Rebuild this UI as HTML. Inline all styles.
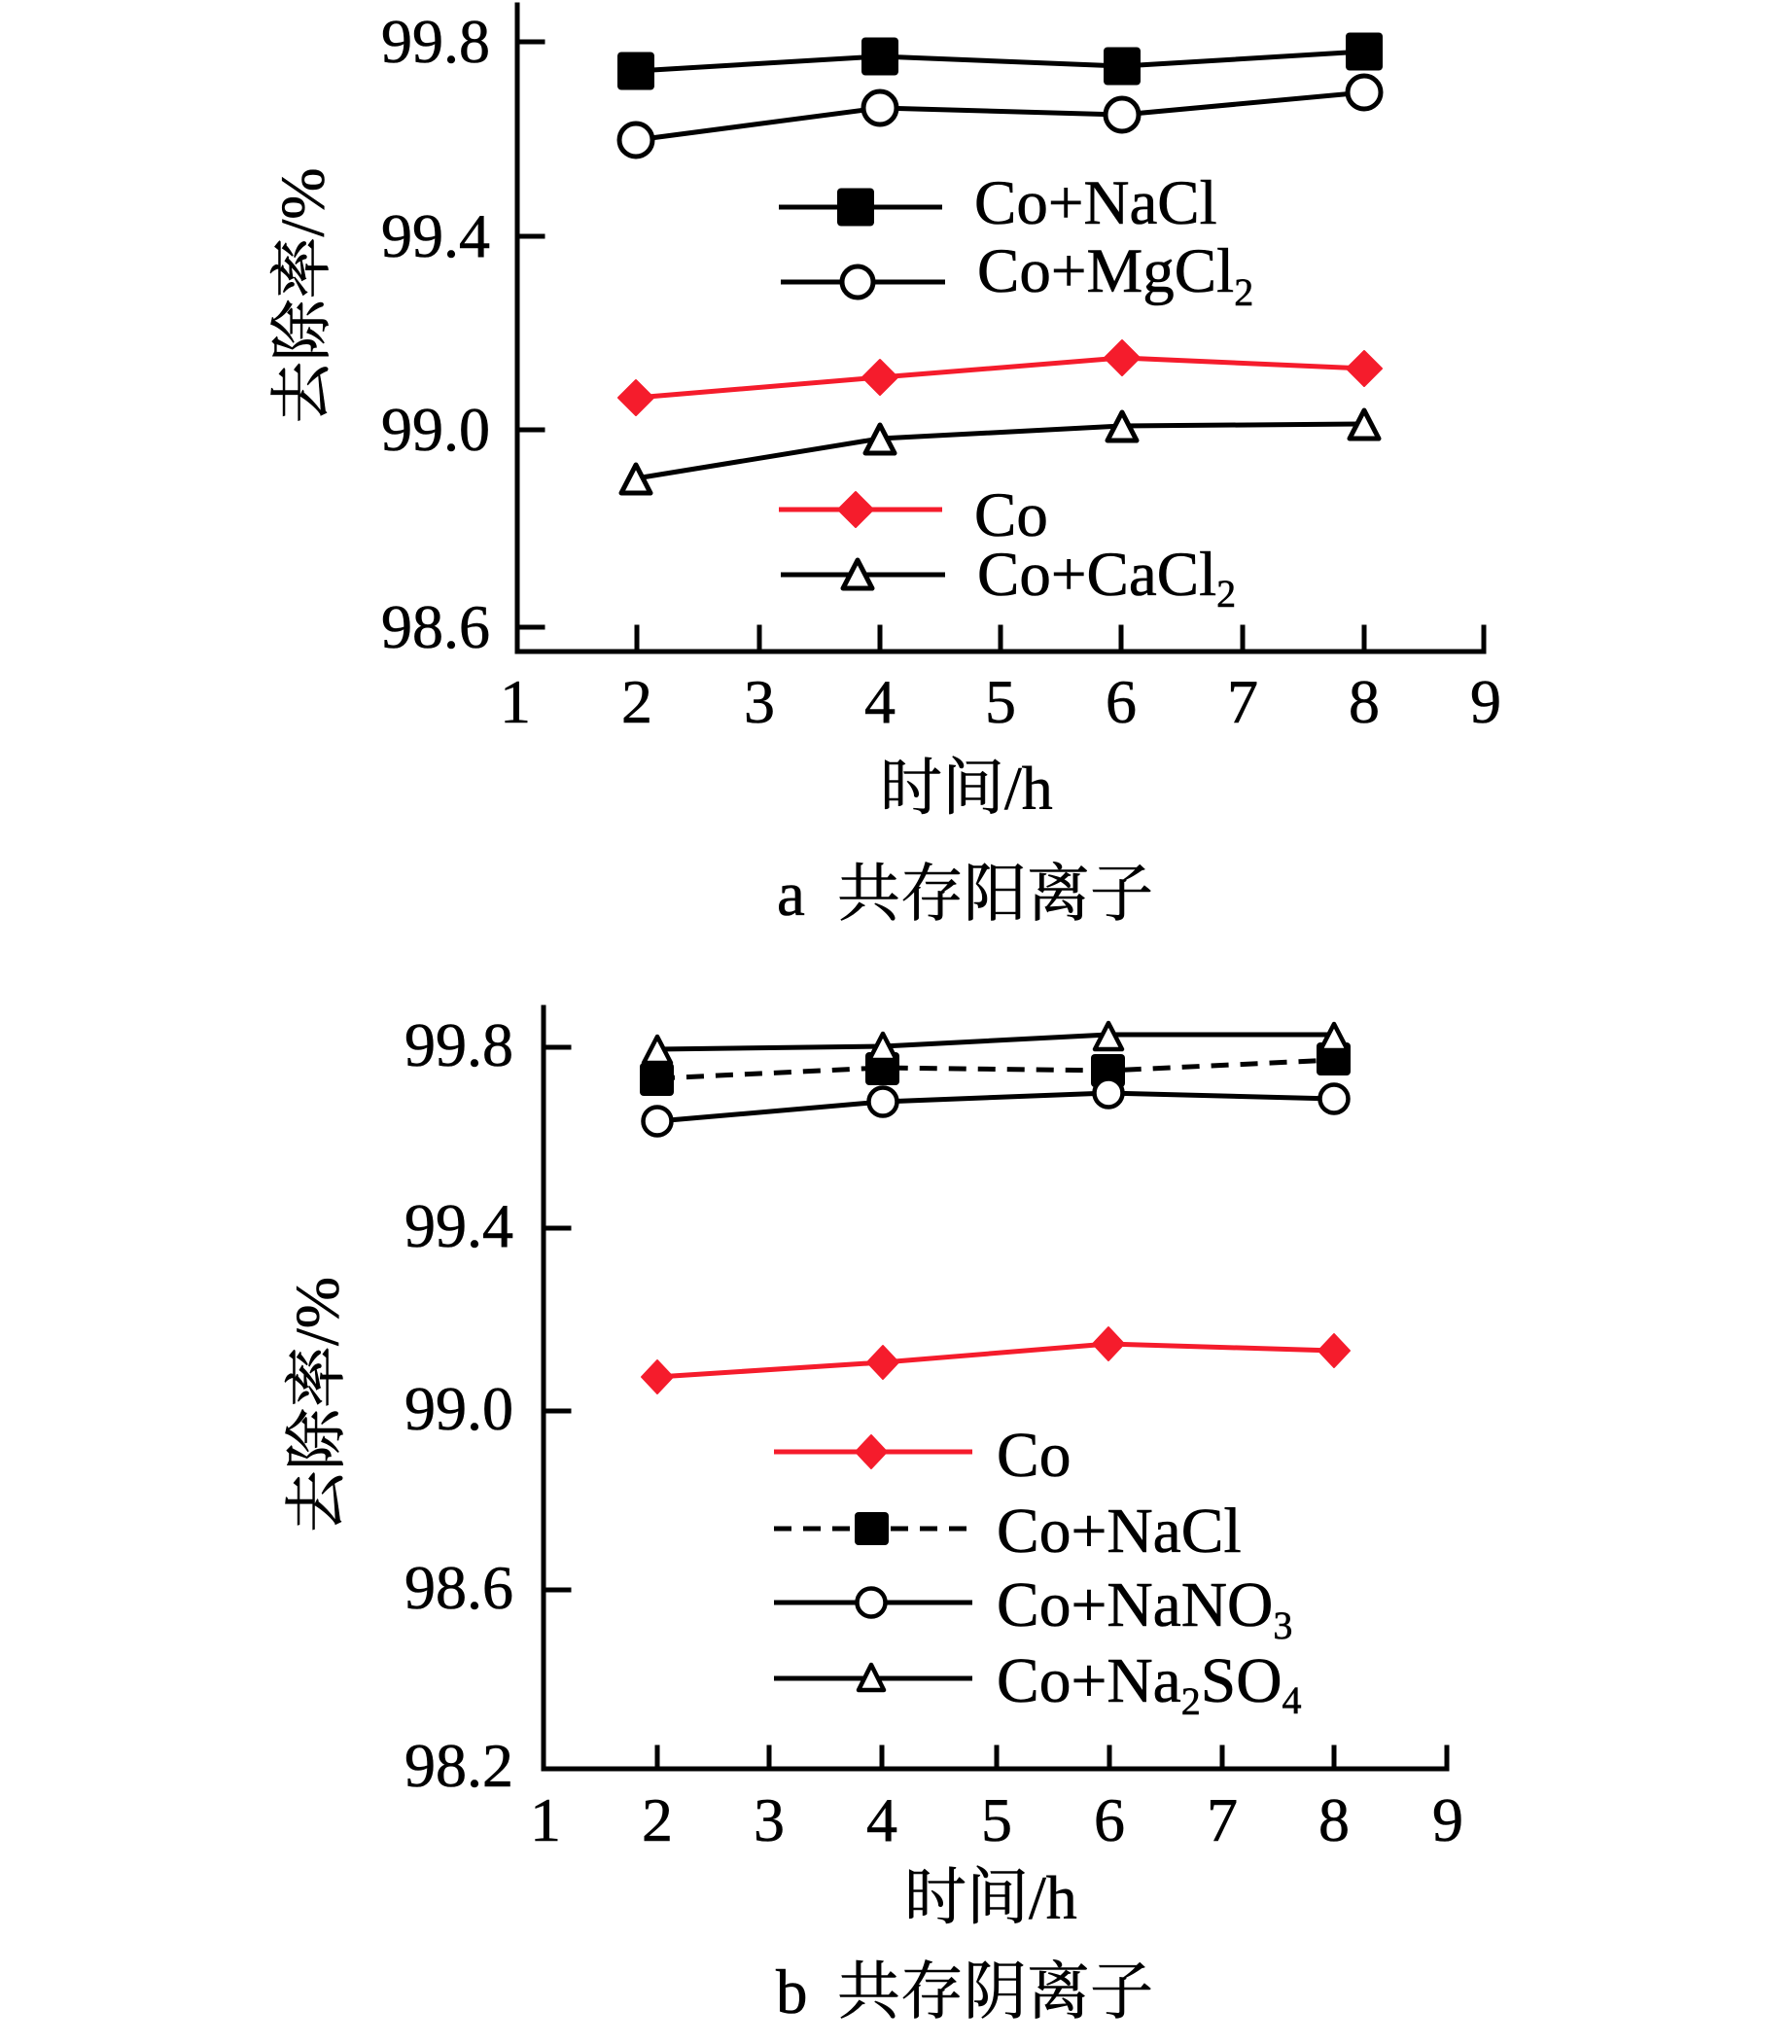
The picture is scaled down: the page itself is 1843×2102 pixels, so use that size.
<!DOCTYPE html>
<html>
<head>
<meta charset="utf-8">
<style>
html,body{margin:0;padding:0;background:#fff;}
svg{display:block;}
text{font-family:"Liberation Serif","Noto Serif CJK SC",serif;fill:#000;stroke:#000;stroke-width:0.6;}
</style>
</head>
<body>
<svg width="1843" height="2102" viewBox="0 0 1843 2102" xmlns="http://www.w3.org/2000/svg">
<rect width="1843" height="2102" fill="#fff"/>

<!-- ================= TOP CHART ================= -->
<g stroke="#000" stroke-width="5" fill="none" stroke-linecap="square">
  <line x1="532" y1="5" x2="532" y2="670"/>
  <line x1="532" y1="670" x2="1526" y2="670"/>
  <line x1="532" y1="43" x2="558" y2="43"/>
  <line x1="532" y1="243" x2="558" y2="243"/>
  <line x1="532" y1="442" x2="558" y2="442"/>
  <line x1="532" y1="645" x2="558" y2="645"/>
  <line x1="655" y1="645" x2="655" y2="670"/>
  <line x1="781" y1="645" x2="781" y2="670"/>
  <line x1="905" y1="645" x2="905" y2="670"/>
  <line x1="1029" y1="645" x2="1029" y2="670"/>
  <line x1="1153" y1="645" x2="1153" y2="670"/>
  <line x1="1278" y1="645" x2="1278" y2="670"/>
  <line x1="1403" y1="645" x2="1403" y2="670"/>
  <line x1="1526" y1="645" x2="1526" y2="670"/>
</g>
<g font-size="64" text-anchor="end">
  <text x="504" y="64">99.8</text>
  <text x="504" y="264">99.4</text>
  <text x="504" y="463">99.0</text>
  <text x="504" y="666">98.6</text>
</g>
<g font-size="64" text-anchor="middle">
  <text x="530" y="743">1</text>
  <text x="655" y="743">2</text>
  <text x="781" y="743">3</text>
  <text x="905" y="743">4</text>
  <text x="1029" y="743">5</text>
  <text x="1153" y="743">6</text>
  <text x="1278" y="743">7</text>
  <text x="1403" y="743">8</text>
  <text x="1528" y="743">9</text>
</g>
<text x="905" y="832" font-size="64">时间/h</text>
<text x="799" y="941" font-size="65">a</text>
<text x="861" y="941" font-size="65">共存阳离子</text>
<g transform="translate(308,304) rotate(-90)">
  <text x="0" y="24.5" font-size="64" text-anchor="middle">去除率/%</text>
</g>

<g fill="none" stroke-width="5" stroke-linejoin="round">
  <polyline stroke="#000" points="654,73 905,58 1154,68 1403,53"/>
  <polyline stroke="#000" points="654,144 905,111 1154,118 1403,95"/>
  <polyline stroke="#f51c2c" points="654,409 905,388 1154,368 1403,379"/>
  <polyline stroke="#000" points="654,492 905,451 1154,438 1403,436"/>
</g>
<g fill="#000">
  <rect x="635" y="53.5" width="38" height="39" rx="4"/>
  <rect x="886" y="38.5" width="38" height="39" rx="4"/>
  <rect x="1135" y="48.5" width="38" height="39" rx="4"/>
  <rect x="1384" y="33.5" width="38" height="39" rx="4"/>
</g>
<g fill="#fff" stroke="#000" stroke-width="5">
  <circle cx="654" cy="144" r="17"/>
  <circle cx="905" cy="111" r="17"/>
  <circle cx="1154" cy="118" r="17"/>
  <circle cx="1403" cy="95" r="17"/>
</g>
<g fill="#f51c2c" stroke="#f51c2c" stroke-width="2" stroke-linejoin="round">
  <polygon points="654,391 672,409 654,427 636,409"/>
  <polygon points="905,370 923,388 905,406 887,388"/>
  <polygon points="1154,350 1172,368 1154,386 1136,368"/>
  <polygon points="1403,361 1421,379 1403,397 1385,379"/>
</g>
<g fill="#fff" stroke="#000" stroke-width="5" stroke-linejoin="round">
  <polygon points="654,478 669,507 639,507"/>
  <polygon points="905,437 920,466 890,466"/>
  <polygon points="1154,424 1169,453 1139,453"/>
  <polygon points="1403,422 1418,451 1388,451"/>
</g>

<!-- legend top -->
<g stroke-width="5" fill="none">
  <line x1="801" y1="213" x2="969" y2="213" stroke="#000"/>
  <line x1="803" y1="290" x2="972" y2="290" stroke="#000"/>
  <line x1="801" y1="524" x2="969" y2="524" stroke="#f51c2c"/>
  <line x1="803" y1="591" x2="972" y2="591" stroke="#000"/>
</g>
<rect x="861" y="193.5" width="38" height="39" rx="4" fill="#000"/>
<circle cx="882" cy="290" r="16" fill="#fff" stroke="#000" stroke-width="5"/>
<polygon points="880,506 898,524 880,542 862,524" fill="#f51c2c" stroke="#f51c2c" stroke-width="2" stroke-linejoin="round"/>
<polygon points="882,576 897,605 867,605" fill="#fff" stroke="#000" stroke-width="5" stroke-linejoin="round"/>
<g font-size="65">
  <text x="1002" y="230">Co+NaCl</text>
  <text x="1005" y="300">Co+MgCl<tspan font-size="40" dy="14">2</tspan></text>
  <text x="1002" y="551">Co</text>
  <text x="1005" y="612">Co+CaCl<tspan font-size="40" dy="12">2</tspan></text>
</g>

<!-- ================= BOTTOM CHART ================= -->
<g stroke="#000" stroke-width="5" fill="none" stroke-linecap="square">
  <line x1="559" y1="1036" x2="559" y2="1819"/>
  <line x1="559" y1="1819" x2="1488" y2="1819"/>
  <line x1="559" y1="1077" x2="585" y2="1077"/>
  <line x1="559" y1="1263" x2="585" y2="1263"/>
  <line x1="559" y1="1451" x2="585" y2="1451"/>
  <line x1="559" y1="1635" x2="585" y2="1635"/>
  <line x1="676" y1="1797" x2="676" y2="1819"/>
  <line x1="791" y1="1797" x2="791" y2="1819"/>
  <line x1="907" y1="1797" x2="907" y2="1819"/>
  <line x1="1025" y1="1797" x2="1025" y2="1819"/>
  <line x1="1141" y1="1797" x2="1141" y2="1819"/>
  <line x1="1257" y1="1797" x2="1257" y2="1819"/>
  <line x1="1372" y1="1797" x2="1372" y2="1819"/>
  <line x1="1488" y1="1797" x2="1488" y2="1819"/>
</g>
<g font-size="64" text-anchor="end">
  <text x="528" y="1096">99.8</text>
  <text x="528" y="1282">99.4</text>
  <text x="528" y="1470">99.0</text>
  <text x="528" y="1654">98.6</text>
  <text x="528" y="1837">98.2</text>
</g>
<g font-size="64" text-anchor="middle">
  <text x="561" y="1893">1</text>
  <text x="676" y="1893">2</text>
  <text x="791" y="1893">3</text>
  <text x="907" y="1893">4</text>
  <text x="1025" y="1893">5</text>
  <text x="1141" y="1893">6</text>
  <text x="1257" y="1893">7</text>
  <text x="1372" y="1893">8</text>
  <text x="1489" y="1893">9</text>
</g>
<text x="930" y="1973" font-size="64">时间/h</text>
<text x="798" y="2070" font-size="65">b</text>
<text x="861" y="2070" font-size="65">共存阴离子</text>
<g transform="translate(322,1444.5) rotate(-90)">
  <text x="0" y="25.5" font-size="64" text-anchor="middle">去除率/%</text>
</g>

<g fill="none" stroke-width="5" stroke-linejoin="round">
  <polyline stroke="#000" points="676,1079 908,1076 1140,1064 1372,1064"/>
  <polyline stroke="#000" stroke-dasharray="18 12" points="676,1109 908,1098 1140,1101 1372,1090"/>
  <polyline stroke="#000" points="676,1153 908,1133 1140,1124 1372,1130"/>
  <polyline stroke="#f51c2c" points="676,1416 908,1401 1140,1382 1372,1389"/>
</g>
<g fill="#000">
  <rect x="658" y="1093" width="35" height="34" rx="4"/>
  <rect x="890" y="1082" width="35" height="34" rx="4"/>
  <rect x="1122" y="1084" width="35" height="34" rx="4"/>
  <rect x="1354" y="1072" width="35" height="34" rx="4"/>
</g>
<g fill="#fff" stroke="#000" stroke-width="4.5">
  <circle cx="676" cy="1153" r="14.5"/>
  <circle cx="908" cy="1133" r="14.5"/>
  <circle cx="1140" cy="1124" r="14.5"/>
  <circle cx="1372" cy="1130" r="14.5"/>
</g>
<g fill="#fff" stroke="#000" stroke-width="4.5" stroke-linejoin="round">
  <polygon points="676,1066 690,1093 662,1093"/>
  <polygon points="908,1063 922,1090 894,1090"/>
  <polygon points="1140,1052 1154,1079 1126,1079"/>
  <polygon points="1372,1053 1386,1080 1358,1080"/>
</g>
<g fill="#f51c2c" stroke="#f51c2c" stroke-width="2" stroke-linejoin="round">
  <polygon points="676,1399 692,1416 676,1433 660,1416"/>
  <polygon points="908,1384 924,1401 908,1418 892,1401"/>
  <polygon points="1140,1365 1156,1382 1140,1399 1124,1382"/>
  <polygon points="1372,1372 1388,1389 1372,1406 1356,1389"/>
</g>

<!-- legend bottom -->
<g stroke-width="5" fill="none">
  <line x1="796" y1="1493" x2="1000" y2="1493" stroke="#f51c2c"/>
  <line x1="796" y1="1572" x2="1000" y2="1572" stroke="#000" stroke-dasharray="18 12"/>
  <line x1="796" y1="1648" x2="1000" y2="1648" stroke="#000"/>
  <line x1="796" y1="1726" x2="1000" y2="1726" stroke="#000"/>
</g>
<polygon points="896,1476 912,1493 896,1510 880,1493" fill="#f51c2c" stroke="#f51c2c" stroke-width="2" stroke-linejoin="round"/>
<rect x="879" y="1555" width="35" height="34" rx="4" fill="#000"/>
<circle cx="896" cy="1648" r="14.5" fill="#fff" stroke="#000" stroke-width="4.5"/>
<polygon points="896,1712 909,1738 883,1738" fill="#fff" stroke="#000" stroke-width="4.5" stroke-linejoin="round"/>
<g font-size="65.5">
  <text x="1025" y="1518">Co</text>
  <text x="1025" y="1596">Co+NaCl</text>
  <text x="1025" y="1672">Co+NaNO<tspan font-size="40" dy="13">3</tspan></text>
  <text x="1025" y="1750">Co+Na<tspan font-size="40" dy="13">2</tspan><tspan dy="-13">SO</tspan><tspan font-size="40" dy="12">4</tspan></text>
</g>
</svg>
</body>
</html>
